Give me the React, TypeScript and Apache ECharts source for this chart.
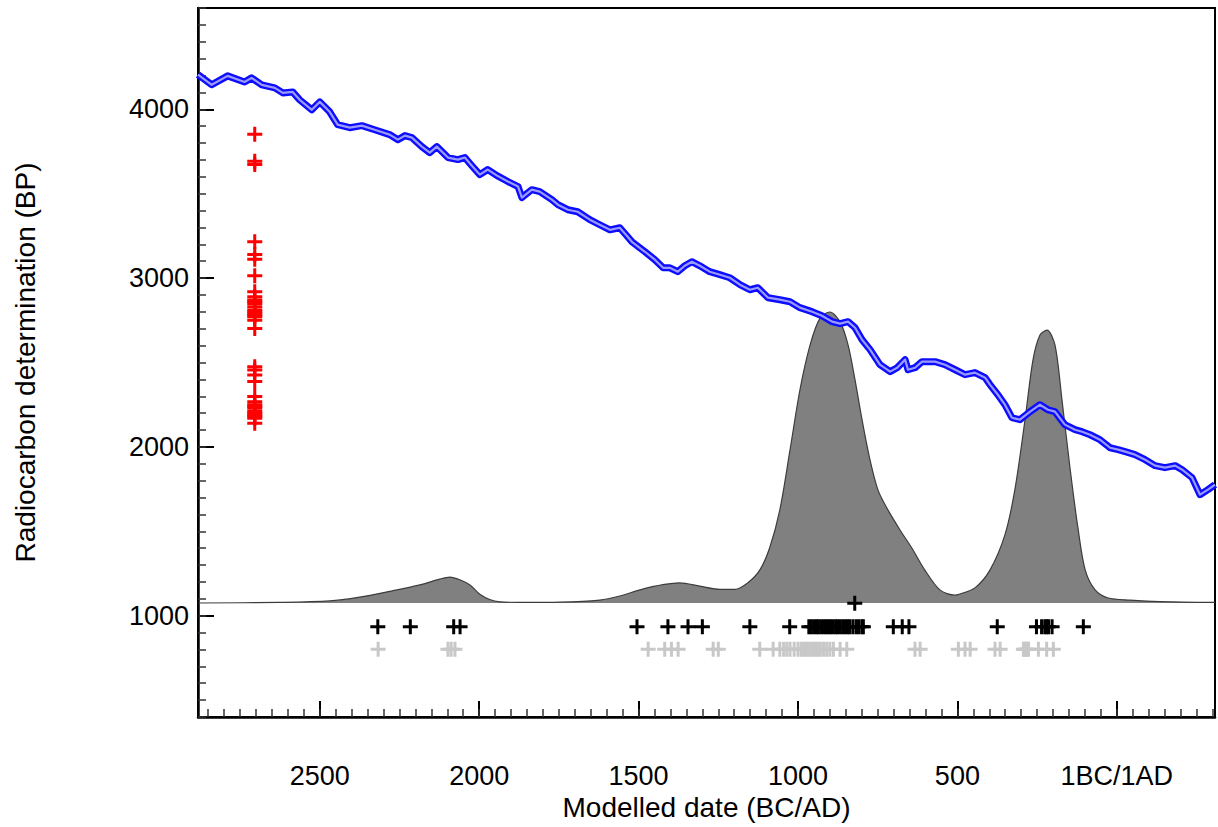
import React, { useEffect, useRef } from 'react';
import * as echarts from 'echarts';

// Calibration curve (years: negative = BC), BP values (centre of band)
const curveYears = [-2882, -2839, -2789, -2736, -2714, -2682, -2641, -2616, -2585, -2563, -2525, -2500, -2469, -2444, -2406, -2368, -2328, -2281, -2255, -2233, -2211, -2180, -2155, -2133, -2098, -2067, -2045, -2023, -1998, -1973, -1944, -1910, -1878, -1866, -1835, -1810, -1772, -1753, -1722, -1691, -1653, -1622, -1590, -1559, -1537, -1521, -1480, -1449, -1423, -1402, -1377, -1355, -1333, -1308, -1277, -1245, -1214, -1182, -1151, -1126, -1094, -1057, -1025, -994, -956, -925, -893, -868, -843, -821, -799, -774, -743, -711, -689, -664, -655, -633, -611, -570, -539, -507, -476, -445, -413, -398, -373, -351, -329, -304, -272, -241, -216, -194, -163, -131, -109, -84, -53, -21, 4, 26, 57, 89, 120, 151, 183, 205, 236, 261, 286, 308];
const curveBP = [4205, 4145, 4198, 4162, 4186, 4145, 4127, 4097, 4103, 4056, 3997, 4044, 3985, 3909, 3891, 3903, 3879, 3850, 3820, 3844, 3832, 3779, 3743, 3779, 3714, 3702, 3714, 3666, 3613, 3643, 3607, 3572, 3542, 3477, 3524, 3512, 3465, 3435, 3405, 3393, 3346, 3316, 3286, 3298, 3251, 3215, 3156, 3109, 3061, 3061, 3038, 3073, 3097, 3073, 3038, 3020, 3002, 2961, 2931, 2943, 2884, 2872, 2860, 2825, 2801, 2777, 2742, 2730, 2742, 2706, 2635, 2576, 2487, 2446, 2469, 2517, 2457, 2469, 2505, 2505, 2487, 2457, 2428, 2440, 2410, 2369, 2309, 2250, 2173, 2161, 2209, 2250, 2220, 2209, 2132, 2102, 2090, 2072, 2043, 1995, 1984, 1972, 1954, 1924, 1889, 1877, 1889, 1865, 1818, 1717, 1747, 1777];

// Summed probability distribution (relative)
const densityYears = [-2882, -2626, -2469, -2375, -2280, -2186, -2124, -2092, -2061, -2029, -1998, -1967, -1935, -1873, -1747, -1622, -1559, -1496, -1449, -1371, -1308, -1245, -1198, -1158, -1120, -1089, -1057, -1025, -994, -962, -931, -900, -868, -843, -821, -799, -774, -749, -718, -680, -643, -602, -555, -508, -492, -445, -398, -351, -320, -288, -263, -241, -219, -194, -172, -146, -121, -99, -68, -27, 42, 136, 308];
const densityValues = [0, 0.002, 0.007, 0.02, 0.04, 0.062, 0.082, 0.089, 0.08, 0.062, 0.03, 0.012, 0.004, 0.002, 0.003, 0.01, 0.024, 0.045, 0.058, 0.069, 0.058, 0.047, 0.047, 0.069, 0.113, 0.189, 0.32, 0.526, 0.732, 0.887, 0.979, 1.0, 0.966, 0.887, 0.766, 0.629, 0.491, 0.388, 0.32, 0.251, 0.189, 0.113, 0.045, 0.027, 0.031, 0.052, 0.113, 0.234, 0.388, 0.629, 0.835, 0.921, 0.938, 0.887, 0.698, 0.457, 0.251, 0.113, 0.045, 0.017, 0.01, 0.005, 0.002];

// Radiocarbon determinations (BP), plotted at one date column
const redColumnYear = -2704;
const redBP = [3852, 3692, 3673, 3215, 3140, 3112, 3014, 2919, 2890, 2870, 2860, 2850, 2830, 2811, 2800, 2791, 2780, 2771, 2751, 2702, 2475, 2456, 2426, 2387, 2298, 2268, 2249, 2240, 2229, 2209, 2200, 2189, 2180, 2170, 2140];

// Modelled dates (posterior, black) and unmodelled (prior, grey)
const blackRowBP = 935;
const blackYears = [-2318, -2216, -2080, -2060, -1505, -1408, -1345, -1300, -1151, -1026, -966, -958, -950, -942, -936, -928, -920, -912, -905, -898, -890, -882, -876, -868, -860, -852, -845, -838, -828, -818, -810, -800, -795, -701, -673, -652, -375, -252, -236, -226, -220, -214, -203, -105];
const blackTopBP = 1074;
const blackTopYears = [-822];
const grayRowBP = 801;
const grayYears = [-2317, -2098, -2088, -2076, -1470, -1418, -1397, -1376, -1266, -1250, -1120, -1078, -1057, -1045, -1035, -1025, -1012, -1000, -990, -982, -975, -968, -960, -952, -945, -938, -930, -920, -910, -900, -889, -868, -847, -633, -617, -497, -476, -460, -382, -366, -293, -289, -285, -281, -277, -246, -220, -199];

// Axes
const xMin = -2882;
const xMax = 308;
const xMajorTicks = [-2500, -2000, -1500, -1000, -500, 0];
const yMin = 400;
const yMax = 4600;
const yMajorTicks = [1000, 2000, 3000, 4000];

const FONT = '"Liberation Sans", Arial, sans-serif';
const PLUS = 'path://M5.6,0H8.4V5.6H14V8.4H8.4V14H5.6V8.4H0V5.6H5.6Z';

export default function App() {
  const ref = useRef<HTMLDivElement>(null);
  useEffect(() => {
    if (!ref.current) return;
    const chart = echarts.init(ref.current, null, { renderer: 'svg' });
    const xMinor: number[] = [];
    for (let v = Math.ceil(xMin / 50) * 50; v <= xMax; v += 50) xMinor.push(v);
    const yMinor: number[] = [];
    for (let v = yMin; v <= yMax; v += 100) yMinor.push(v);

    const xFmt = (v: number) => (v === 0 ? '1BC/1AD' : String(Math.abs(v)));
    const yFmt = (v: number) => String(v);

    chart.setOption({
      animation: false,
      backgroundColor: '#fff',
      grid: {
        left: 198, top: 8, width: 1017, height: 709,
        show: true, borderColor: '#000', borderWidth: 2,
        containLabel: false, outerBoundsMode: 'none',
      },
      xAxis: [
        {
          type: 'value', min: xMin, max: xMax, position: 'bottom',
          axisLine: { show: true, onZero: false, lineStyle: { color: '#000', width: 2.5 } },
          axisTick: { show: true, inside: true, length: 16, customValues: xMajorTicks, lineStyle: { color: '#000', width: 2 } },
          axisLabel: { show: true, customValues: xMajorTicks, formatter: xFmt, fontSize: 27, color: '#000', margin: 45, fontFamily: FONT },
          splitLine: { show: false },
          name: 'Modelled date (BC/AD)', nameLocation: 'middle', nameGap: 74,
          nameTextStyle: { fontSize: 28, color: '#000', fontFamily: FONT },
        },
        {
          type: 'value', min: xMin, max: xMax, position: 'bottom',
          axisLine: { show: false, onZero: false },
          axisTick: { show: true, inside: true, length: 8, customValues: xMinor, lineStyle: { color: '#333', width: 1.5 } },
          axisLabel: { show: false },
          splitLine: { show: false },
        },
      ],
      yAxis: [
        {
          type: 'value', min: yMin, max: yMax, position: 'left',
          axisLine: { show: true, onZero: false, lineStyle: { color: '#000', width: 2.5 } },
          axisTick: { show: true, inside: true, length: 16, customValues: yMajorTicks, lineStyle: { color: '#000', width: 2 } },
          axisLabel: { show: true, customValues: yMajorTicks, formatter: yFmt, fontSize: 27, color: '#000', margin: 9, fontFamily: FONT },
          splitLine: { show: false },
          name: 'Radiocarbon determination (BP)', nameLocation: 'middle', nameGap: 159, nameRotate: 90,
          nameTextStyle: { fontSize: 28, color: '#000', fontFamily: FONT },
        },
        {
          type: 'value', min: yMin, max: yMax, position: 'left',
          axisLine: { show: false, onZero: false },
          axisTick: { show: true, inside: true, length: 8, customValues: yMinor, lineStyle: { color: '#333', width: 1.5 } },
          axisLabel: { show: false },
          splitLine: { show: false },
        },
        {
          type: 'value', min: -0.3918, max: 2.0448, show: false,
          splitLine: { show: false },
        },
      ],
      series: [
        {
          type: 'line', xAxisIndex: 0, yAxisIndex: 2, z: 1,
          data: densityYears.map((y, i) => [y, densityValues[i]]),
          showSymbol: false, smooth: 0.3,
          lineStyle: { color: '#3c3c3c', width: 1.2 },
          areaStyle: { color: '#808080', opacity: 1 },
        },
        {
          type: 'line', xAxisIndex: 0, yAxisIndex: 0, z: 3,
          data: curveYears.map((y, i) => [y, curveBP[i]]),
          showSymbol: false,
          lineStyle: { color: '#0c0cff', width: 7, join: 'round' },
        },
        {
          type: 'line', xAxisIndex: 0, yAxisIndex: 0, z: 4,
          data: curveYears.map((y, i) => [y, curveBP[i]]),
          showSymbol: false,
          lineStyle: { color: '#9a9aff', width: 2.2, join: 'round' },
        },
        {
          type: 'scatter', xAxisIndex: 0, yAxisIndex: 0, z: 5,
          data: redBP.map((b) => [redColumnYear, b]),
          symbol: PLUS, symbolSize: 15,
          itemStyle: { color: '#ff0000', opacity: 1 },
        },
        {
          type: 'scatter', xAxisIndex: 0, yAxisIndex: 0, z: 5,
          data: grayYears.map((y) => [y, grayRowBP]),
          symbol: PLUS, symbolSize: 15,
          itemStyle: { color: '#c8c8c8', opacity: 1 },
        },
        {
          type: 'scatter', xAxisIndex: 0, yAxisIndex: 0, z: 6,
          data: blackYears.map((y) => [y, blackRowBP]).concat(blackTopYears.map((y) => [y, blackTopBP])),
          symbol: PLUS, symbolSize: 15,
          itemStyle: { color: '#000', opacity: 1 },
        },
      ],
    });
    return () => chart.dispose();
  }, []);
  return <div ref={ref} style={{ position: 'absolute', left: 0, top: 0, width: 1218, height: 827 }} />;
}
